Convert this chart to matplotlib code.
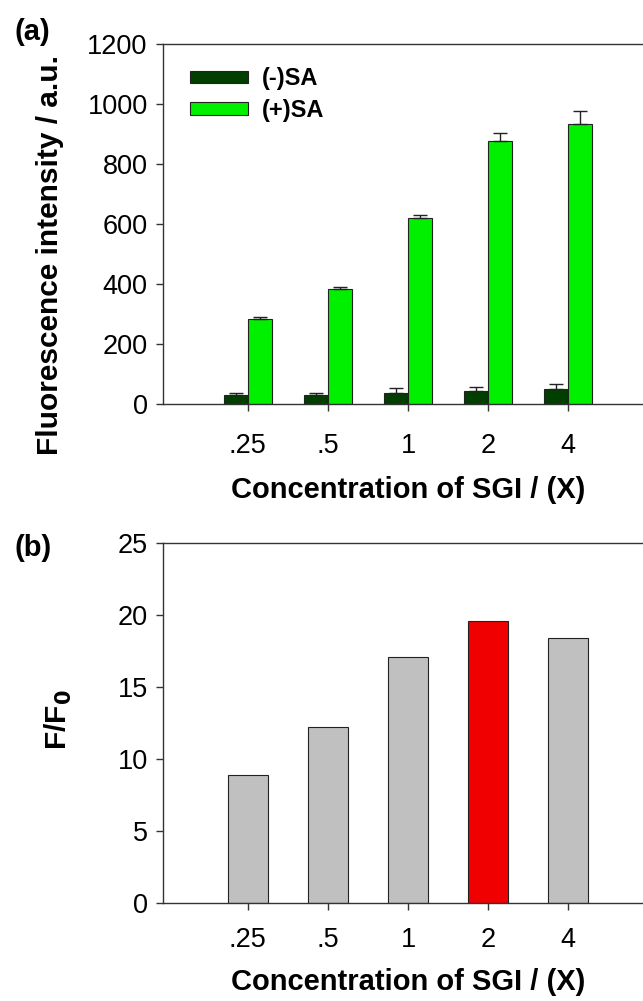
import matplotlib.pyplot as plt
import numpy as np

plt.rcParams["font.family"] = ["Liberation Sans", "DejaVu Sans"]

conc = [".25", ".5", "1", "2", "4"]

minus_sa = [31, 31, 36, 44, 49]
minus_err = [5, 5, 17, 12, 18]
plus_sa = [283, 382, 620, 878, 933]
plus_err = [6, 9, 11, 24, 43]

ratio = [8.86, 12.2, 17.06, 19.55, 18.38]
ratio_colors = ["#c0c0c0", "#c0c0c0", "#c0c0c0", "#f00000", "#c0c0c0"]

W, H = 643, 1001
fig = plt.figure(figsize=(W / 100, H / 100), dpi=100)


def box(left, right, top, bottom):
    return [left / W, 1 - bottom / H, (right - left) / W, (bottom - top) / H]


def style(ax, xpad):
    ax.spines["right"].set_visible(False)
    for s in ["left", "top", "bottom"]:
        ax.spines[s].set_linewidth(1.0)
        ax.spines[s].set_color("#333333")
    ax.tick_params(direction="out", length=5, width=1, color="#333333",
                   labelsize=19.5, pad=6)
    ax.tick_params(axis="x", pad=xpad)
    ax.set_xticks(range(len(conc)))
    ax.set_xticklabels(conc)
    ax.set_xlim(-1.06, 5.06)


x = np.arange(len(conc))

# (a)
ax1 = fig.add_axes(box(163, 653, 44, 404))
w = 0.3
ax1.bar(x - w / 2, minus_sa, w, color="#003f00", edgecolor="#222222", lw=0.8,
        yerr=[np.zeros(5), minus_err], capsize=5,
        error_kw=dict(ecolor="#222222", elinewidth=1, capthick=1),
        label="(-)SA")
ax1.bar(x + w / 2, plus_sa, w, color="#00f000", edgecolor="#222222", lw=0.8,
        yerr=[np.zeros(5), plus_err], capsize=5,
        error_kw=dict(ecolor="#222222", elinewidth=1, capthick=1),
        label="(+)SA")
ax1.set_ylim(0, 1200)
ax1.set_yticks(range(0, 1201, 200))
style(ax1, 16)
leg = ax1.legend(loc="upper left", bbox_to_anchor=(0.055, 0.935), frameon=False,
                 prop=dict(weight="bold", size=17), handlelength=2.46,
                 handleheight=0.47, handletextpad=0.6, labelspacing=0.35,
                 borderaxespad=0, borderpad=0)
ax1.set_xlabel("Concentration of SGI / (X)", fontsize=21, fontweight="bold",
               labelpad=12)
fig.text(50 / W, 1 - 255 / H, "Fluorescence intensity / a.u.", rotation=90,
         fontsize=21.5, fontweight="bold", ha="center", va="center")
fig.text(14 / W, 1 - 32 / H, "(a)", fontsize=21, fontweight="bold",
         ha="left", va="center")

# (b)
ax2 = fig.add_axes(box(163, 653, 543, 903))
ax2.bar(x, ratio, 0.5, color=ratio_colors, edgecolor="#222222", lw=0.8)
ax2.set_ylim(0, 25)
ax2.set_yticks(range(0, 26, 5))
style(ax2, 12)
ax2.set_xlabel("Concentration of SGI / (X)", fontsize=21, fontweight="bold",
               labelpad=11)
fig.text(58 / W, 1 - 720 / H, r"F/F$_\mathbf{0}$", rotation=90,
         fontsize=21.5, fontweight="bold", ha="center", va="center")
fig.text(14 / W, 1 - 548 / H, "(b)", fontsize=21, fontweight="bold",
         ha="left", va="center")

fig.savefig("out.png", dpi=100)
